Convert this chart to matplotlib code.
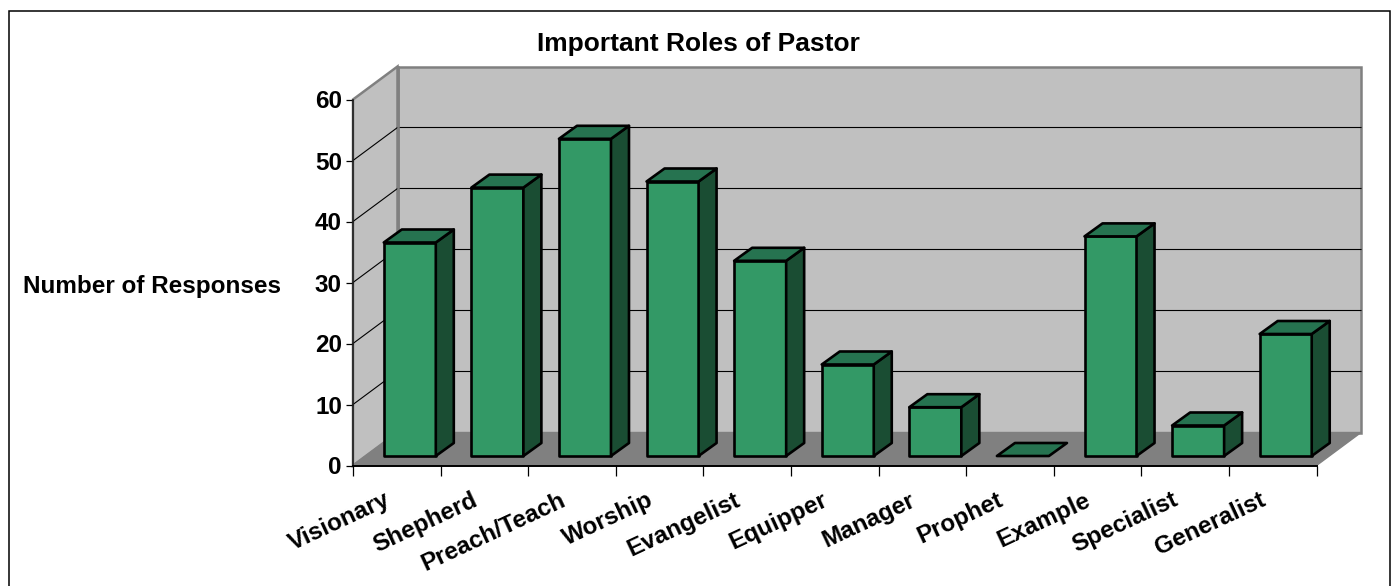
import matplotlib
matplotlib.use("Agg")
import matplotlib.pyplot as plt
from matplotlib.patches import Polygon, Rectangle

categories = ["Visionary", "Shepherd", "Preach/Teach", "Worship", "Evangelist", "Equipper",
              "Manager", "Prophet", "Example", "Specialist", "Generalist"]
values = [35, 44, 52, 45, 32, 15, 8, 0, 36, 5, 20]
y_ticks = [0, 10, 20, 30, 40, 50, 60]
title = "Important Roles of Pastor"
y_label = "Number of Responses"

W, H = 1397, 586
plt.rcParams['font.family'] = ['Liberation Sans', 'DejaVu Sans']
fig = plt.figure(figsize=(W / 100, H / 100), dpi=100, facecolor="white")

X0, X1, Y0, Y60 = 353.0, 1316.5, 465.5, 99.5
ax = fig.add_axes([X0 / W, 1 - Y0 / H, (X1 - X0) / W, (Y0 - Y60) / H])
ax.set_xlim(0, len(categories))
ax.set_ylim(0, 60)
ax.set_facecolor("none")
for s in ax.spines.values():
    s.set_visible(False)

px = len(categories) / (X1 - X0)      # data units per pixel, x
py = 60 / (Y0 - Y60)                  # data units per pixel, y
DX, DY = 44.5 * px, 33 * py           # full chart depth
n = len(categories)

# outer frame: left, top and right edges are visible, bottom runs past the picture
fig.add_artist(Rectangle((8.5 / W, -20 / H), 1381.5 / W, (H + 20 - 10.5) / H, transform=fig.transFigure,
                         fc="white", ec="black", lw=1.1, zorder=-5))

wall = "#c0c0c0"
floor = "#808080"
edge = "#808080"
# back wall, side wall, floor
ax.add_patch(Polygon([(DX, DY), (n + DX, DY), (n + DX, 60 + DY), (DX, 60 + DY)], fc=wall, ec=edge, lw=1.8,
                     clip_on=False, zorder=1, joinstyle="miter"))
ax.add_patch(Polygon([(0, 0), (DX, DY), (DX, 60 + DY), (0, 60)], fc=wall, ec=edge, lw=1.8,
                     clip_on=False, zorder=1, joinstyle="miter"))
ax.add_patch(Polygon([(0, 0), (n, 0), (n + DX, DY), (DX, DY)], fc=floor, ec=edge, lw=1.0,
                     clip_on=False, zorder=2))
# gridlines
for t in y_ticks[1:-1]:
    ax.plot([0, DX, n + DX], [t, t + DY, t + DY], color="black", lw=0.8, clip_on=False, zorder=3,
            solid_joinstyle="miter")
ax.plot([DX, DX], [DY, 60 + DY], color=edge, lw=1.8, clip_on=False, zorder=3)
# axes
ax.plot([0, 0], [0, 60], color="#202020", lw=1.2, clip_on=False, zorder=4)
ax.plot([0, n], [0, 0], color="black", lw=1.4, clip_on=False, zorder=8)
ax.set_xticks(range(n + 1))
ax.set_xticklabels([])
ax.set_yticks(y_ticks)
ax.set_yticklabels([str(t) for t in y_ticks], fontsize=17.5, fontweight="bold")
ax.tick_params(axis="x", length=7.5, width=0.9, direction="out", pad=0)
ax.tick_params(axis="y", length=5, width=0.9, direction="out", pad=3)

# bars
bw = 52 * px
bdx, bdy = 18 * px, 13 * py
base_y = (Y0 - 456) * py
off = 13.0 * px
front_c, top_c, side_c = "#339966", "#267350", "#1a4d33"
for i, v in enumerate(values):
    x0 = i + 0.5 + off - bw / 2
    x1 = x0 + bw
    y0, y1 = base_y, base_y + v
    kw = dict(ec="black", lw=1.9, clip_on=False, zorder=5 + i * 0.01, joinstyle="round")
    if v > 0:
        ax.add_patch(Polygon([(x0, y0), (x1, y0), (x1, y1), (x0, y1)], fc=front_c, **kw))
        ax.add_patch(Polygon([(x1, y0), (x1 + bdx, y0 + bdy), (x1 + bdx, y1 + bdy), (x1, y1)], fc=side_c, **kw))
    ax.add_patch(Polygon([(x0, y1), (x1, y1), (x1 + bdx, y1 + bdy), (x0 + bdx, y1 + bdy)], fc=top_c, **kw))

# category labels, rotated, right end under each tick gap
for i, c in enumerate(categories):
    ax.annotate(c, xy=(i + 0.5, 0), xycoords="data", xytext=(-13, -23), textcoords="offset pixels",
                ha="right", va="top", rotation=25, rotation_mode="anchor", fontsize=17.5,
                fontweight="bold", annotation_clip=False)

fig.text(698 / W, 1 - 44.5 / H, title, ha="center", va="center", fontsize=19, fontweight="bold")
fig.text(152 / W, 1 - 286.5 / H, y_label, ha="center", va="center", fontsize=17.5, fontweight="bold")

fig.savefig("out.png", dpi=100)
